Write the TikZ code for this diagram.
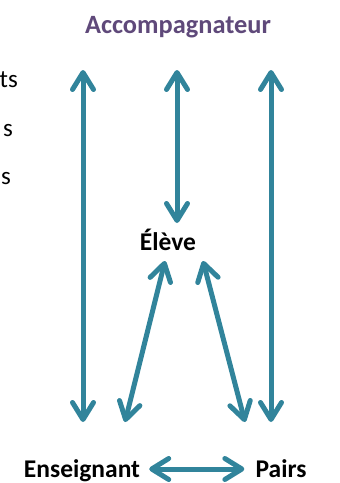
\documentclass[tikz,border=0pt]{standalone}
\usepackage{fontspec}
\setmainfont{Carlito}
\usepackage{tikz}
\usetikzlibrary{arrows.meta}
\definecolor{myteal}{HTML}{31849B}
\definecolor{mypurple}{HTML}{5F497A}
\tikzset{%
  myedge/.style={{Straight Barb[length=17pt,width=21pt,round]}-{Straight Barb[length=17pt,width=21pt,round]},
    line width=5pt, draw=myteal},
  mynode/.style={font=\bfseries\fontsize{25.5}{30}\selectfont, inner sep=0pt,
    text height=16pt, text depth=0pt, anchor=base},
  mytext/.style={font=\fontsize{25}{30}\selectfont, inner sep=0pt, anchor=base east}
}

\begin{document}
\begin{tikzpicture}[x=1pt, y=-1pt]
  \useasboundingbox (0,0) rectangle (340,483);
  % the four roles
  \node[mynode, text=mypurple, font=\bfseries\fontsize{26.4}{30}\selectfont] (acc) at (178,33) {Accompagnateur};
  \node[mynode] (el) at (168,250) {Élève};
  \node[mynode] (ens) at (82,477) {Enseignant};
  \node[mynode] (pr) at (281,477) {Pairs};
  % cut text on the left
  \node[mytext] (t1) at (18,87) {ts};
  \node[mytext] (t2) at (13,136) {s};
  \node[mytext] (t3) at (11,184) {s};
  % ends of the arrows
  \coordinate (X1) at (83,70);
  \coordinate (Y1) at (83,422);
  \coordinate (X2) at (177,70);
  \coordinate (Y2) at (177,223);
  \coordinate (X3) at (271,70);
  \coordinate (Y3) at (271,422);
  \coordinate (U1) at (165,261);
  \coordinate (V1) at (125,422);
  \coordinate (U2) at (203,261);
  \coordinate (V2) at (245,422);
  \draw [myedge] (X1) -- (Y1);
  \draw [myedge] (X2) -- (Y2);
  \draw [myedge] (X3) -- (Y3);
  \draw [myedge] (U1) -- (V1);
  \draw [myedge] (U2) -- (V2);
  \draw [myedge, shorten <=9pt, shorten >=11pt] (ens.east) -- (pr.west);
\end{tikzpicture}
\end{document}
